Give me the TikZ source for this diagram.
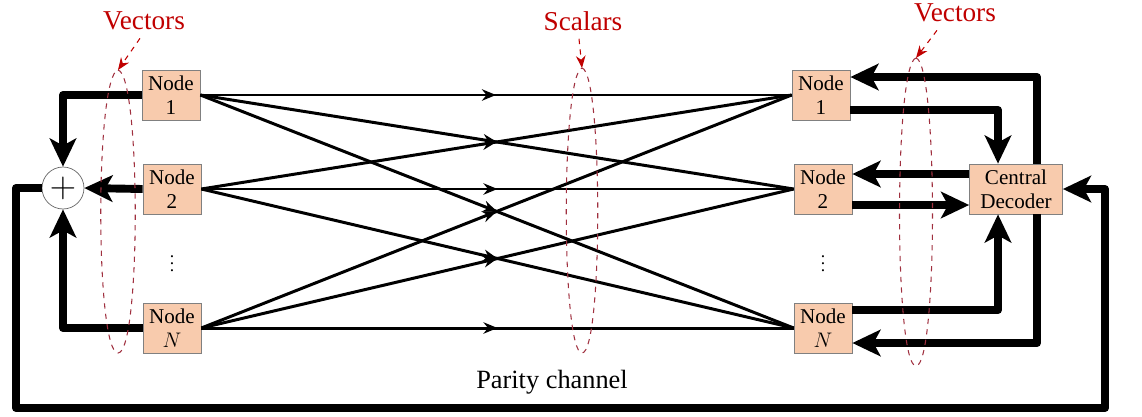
\documentclass[tikz,border=0pt]{standalone}
\usepackage{fontspec}
\setmainfont{Liberation Serif}
\usepackage{xcolor}
\usepackage{tikz}
\usetikzlibrary{arrows.meta, calc, decorations.markings}

\definecolor{peach}{HTML}{F8CBAD}
\definecolor{labred}{HTML}{C00000}
\definecolor{ovalred}{HTML}{A0303F}

\begin{document}
\begin{tikzpicture}[
            x=0.02cm, y=-0.02cm,
            block/.style={rectangle, draw=gray, fill=peach, minimum height=1cm, minimum width=1.16cm,
                          align=center, inner sep=1pt, font=\rmfamily\fontsize{12}{13.6}\selectfont},
            fat/.style={line width=4.5pt, line join=round, -{Stealth[length=16pt, width=15pt, inset=4pt]}},
            thin/.style={line width=1.7pt, postaction={decorate}, decoration={markings,
                          mark=at position 0.5 with {\arrow{Stealth[length=8pt, width=6.5pt]}}}},
            oval/.style={draw=ovalred, dashed, line width=0.6pt},
            tag/.style={text=labred, font=\rmfamily\fontsize{15.5}{18}\selectfont},
            pointer/.style={draw=labred, dashed, line width=0.6pt, -{Stealth[length=7pt, width=5.5pt]}}
        ]
            \useasboundingbox (0,0) rectangle (1142,416);

            % Transmitting nodes
            \node[block] (l1) at (171,95) {Node\\1};
            \node[block] (l2) at (172,189) {Node\\2};
            \node[block] (ln) at (172,328) {Node\\$N$};
            \node[inner sep=0pt] (ldots) at (172,258) {$\vdots$};

            % Receiving nodes
            \node[block] (r1) at (821,95) {Node\\1};
            \node[block] (r2) at (823,189) {Node\\2};
            \node[block] (rn) at (823,328) {Node\\$N$};
            \node[inner sep=0pt] (rdots) at (823,258) {$\vdots$};

            % Central decoder and adder
            \node[block, minimum width=1.86cm] (dec) at (1016,189) {Central\\Decoder};
            \node[circle, draw=gray!80!black, fill=white, minimum size=0.84cm, inner sep=0pt,
                  font=\fontsize{22}{22}\selectfont] (sum) at (63,188) {$+$};

            % Scalar links
            \foreach \a in {l1,l2,ln}
                \foreach \b in {r1,r2,rn}
                    \draw[thin] (\a.east) -- (\b.west);

            % Vector links to the adder
            \draw[fat] (l1.west) -| (sum.north);
            \draw[fat] (l2.west) -- (sum.east);
            \draw[fat] (ln.west) -| (sum.south);

            % Parity channel
            \coordinate (pl) at (16,408);
            \coordinate (pr) at (1105,408);
            \draw[fat] (sum.west) -| (pl) -- (pr) |- (dec.east);
            \node[font=\rmfamily\fontsize{15}{18}\selectfont] (par) at (552,382) {Parity channel};

            % Vector links around the decoder
            \draw[fat] ($(dec.north)+(21,0)$) |- ($(r1.east)+(0,-18)$);
            \draw[fat] ($(r1.east)+(0,15)$) -| ($(dec.north)+(-18,0)$);
            \draw[fat] ($(dec.west)+(0,-15)$) -- ($(r2.east)+(0,-15)$);
            \draw[fat] ($(r2.east)+(0,16)$) -- ($(dec.west)+(0,16)$);
            \draw[fat] ($(rn.east)+(0,-18)$) -| ($(dec.south)+(-18,0)$);
            \draw[fat] ($(dec.south)+(21,0)$) |- ($(rn.east)+(0,15)$);

            % Dashed ovals
            \coordinate (o1) at (118,70);
            \coordinate (o2) at (582,68);
            \coordinate (o3) at (916,58);
            \draw[oval] (o1) .. controls (141,75) and (141,353) .. (118,353) .. controls (95,353) and (95,75) .. (o1);
            \draw[oval] (o2) .. controls (603,73) and (603,353) .. (582,353) .. controls (561,353) and (561,73) .. (o2);
            \draw[oval] (o3) .. controls (938,63) and (938,366) .. (916,366) .. controls (894,366) and (894,63) .. (o3);

            % Labels
            \node[tag] (vec1) at (144,21) {Vectors};
            \node[tag] (sca) at (583,21) {Scalars};
            \node[tag] (vec2) at (955,13) {Vectors};
            \draw[pointer] ($(vec1.south)+(-4,2)$) -- (o1);
            \draw[pointer] ($(sca.south)+(-4,2)$) -- (o2);
            \draw[pointer] ($(vec2.south)+(-18,2)$) -- (o3);

        \end{tikzpicture}
\end{document}
